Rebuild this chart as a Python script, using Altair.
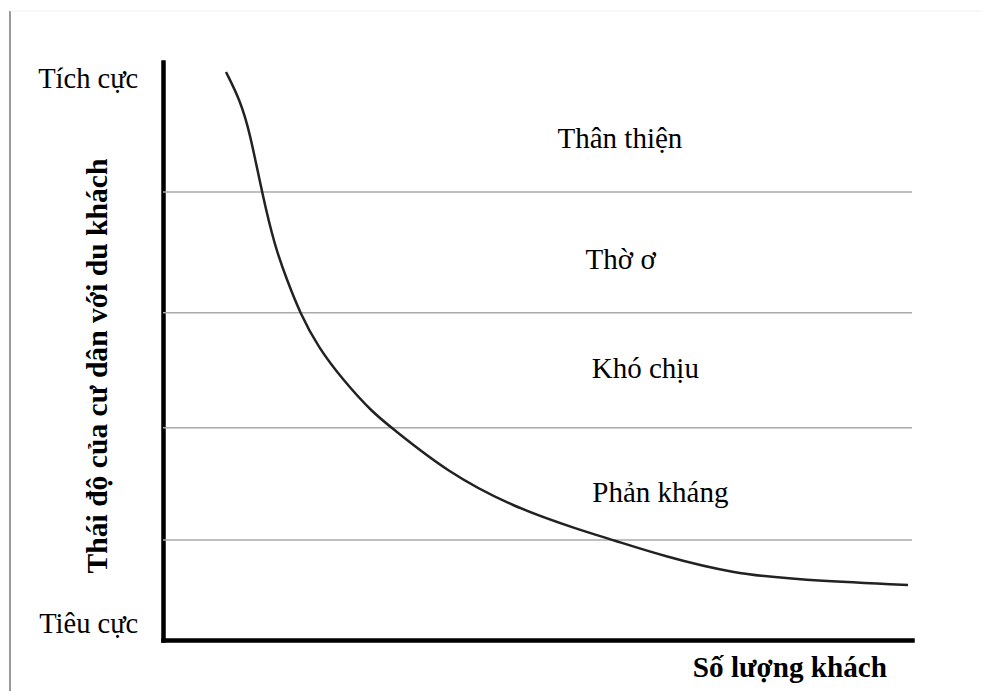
import altair as alt
import pandas as pd

# Curve (abstract units: x = visitor count 0..100, y = attitude 0..100)
curve_x = [8.41, 10.28, 11.62, 13.22, 14.95, 16.56, 18.29, 20.69, 24.03, 28.04, 30.57,
           37.92, 46.73, 55.67, 60.08, 66.76, 76.10, 85.05, 99.47]
curve_y = [98.27, 93.43, 87.72, 77.34, 67.99, 62.28, 56.57, 50.69, 44.98, 39.27, 36.68,
           29.07, 23.01, 19.03, 17.30, 14.53, 11.50, 10.38, 9.52]

# Boundaries between attitude zones
band_lines = [77.5, 56.6, 36.7, 17.3]

# Zone labels
zone_names = ["Thân thiện", "Thờ ơ", "Khó chịu", "Phản kháng"]
zone_x = [61.0, 61.1, 64.4, 66.4]
zone_y = [85.1, 64.2, 45.3, 23.9]

# Axis end labels
end_names = ["Tích cực", "Tiêu cực"]
end_x = [-3.3, -3.3]
end_y = [95.5, 1.2]

y_title = "Thái độ của cư dân với du khách"
x_title = "Số lượng khách"

FONT = "Liberation Serif"

curve_df = pd.DataFrame({"x": curve_x, "y": curve_y})
band_df = pd.DataFrame({"y": band_lines})
zone_df = pd.DataFrame({"x": zone_x, "y": zone_y, "t": zone_names})
end_df = pd.DataFrame({"x": end_x, "y": end_y, "t": end_names})
ytitle_df = pd.DataFrame({"x": [-8.7], "y": [47.4], "t": [y_title]})
xtitle_df = pd.DataFrame({"x": [83.7], "y": [-6.4], "t": [x_title]})

xs = alt.Scale(domain=[0, 100], nice=False, zero=False)
ys = alt.Scale(domain=[0, 100], nice=False, zero=False)

xaxis = alt.Axis(title=None, labels=False, ticks=False, grid=False,
                 domain=True, domainColor="black", domainWidth=4.5, domainCap="square")
yaxis = alt.Axis(title=None, labels=False, ticks=False, grid=False,
                 domain=True, domainColor="black", domainWidth=4.5, domainCap="square")

bands = alt.Chart(band_df).mark_rule(color="#aaaaaa", strokeWidth=1.5).encode(
    y=alt.Y("y:Q", scale=ys, axis=yaxis)
)

curve = alt.Chart(curve_df).mark_line(color="#222222", strokeWidth=2.5, interpolate="basis").encode(
    x=alt.X("x:Q", scale=xs, axis=xaxis),
    y=alt.Y("y:Q", scale=ys, axis=yaxis),
)

zones = alt.Chart(zone_df).mark_text(font=FONT, fontSize=29, align="center", baseline="alphabetic", color="black").encode(
    x=alt.X("x:Q", scale=xs), y=alt.Y("y:Q", scale=ys), text="t:N"
)

ends = alt.Chart(end_df).mark_text(font=FONT, fontSize=28.5, align="right", baseline="alphabetic", color="black").encode(
    x=alt.X("x:Q", scale=xs), y=alt.Y("y:Q", scale=ys), text="t:N"
)

ytitle = alt.Chart(ytitle_df).mark_text(font=FONT, fontSize=29.6, fontWeight="bold", angle=270,
                                        align="center", baseline="middle", color="black").encode(
    x=alt.X("x:Q", scale=xs), y=alt.Y("y:Q", scale=ys), text="t:N"
)

xtitle = alt.Chart(xtitle_df).mark_text(font=FONT, fontSize=29.2, fontWeight="bold",
                                        align="center", baseline="alphabetic", color="black").encode(
    x=alt.X("x:Q", scale=xs), y=alt.Y("y:Q", scale=ys), text="t:N"
)

border = alt.Chart(pd.DataFrame({"a": [0]})).mark_rule(color="#555555", strokeWidth=1.2).encode(
    x=alt.value(-153), y=alt.value(-51), y2=alt.value(640)
)
topborder = alt.Chart(pd.DataFrame({"a": [0]})).mark_rule(color="#eeeeee", strokeWidth=1).encode(
    x=alt.value(-153), x2=alt.value(820), y=alt.value(-51)
)

chart = alt.layer(border, topborder, bands, curve, zones, ends, ytitle, xtitle).properties(
    width=749, height=578,
    padding={"left": 155, "top": 54, "right": 69, "bottom": 51},
    autosize=alt.AutoSizeParams(type="none"),
).configure(background="white").configure_view(strokeWidth=0, stroke="transparent")

chart.save("out.html", embed_options={"renderer": "svg", "actions": False})
